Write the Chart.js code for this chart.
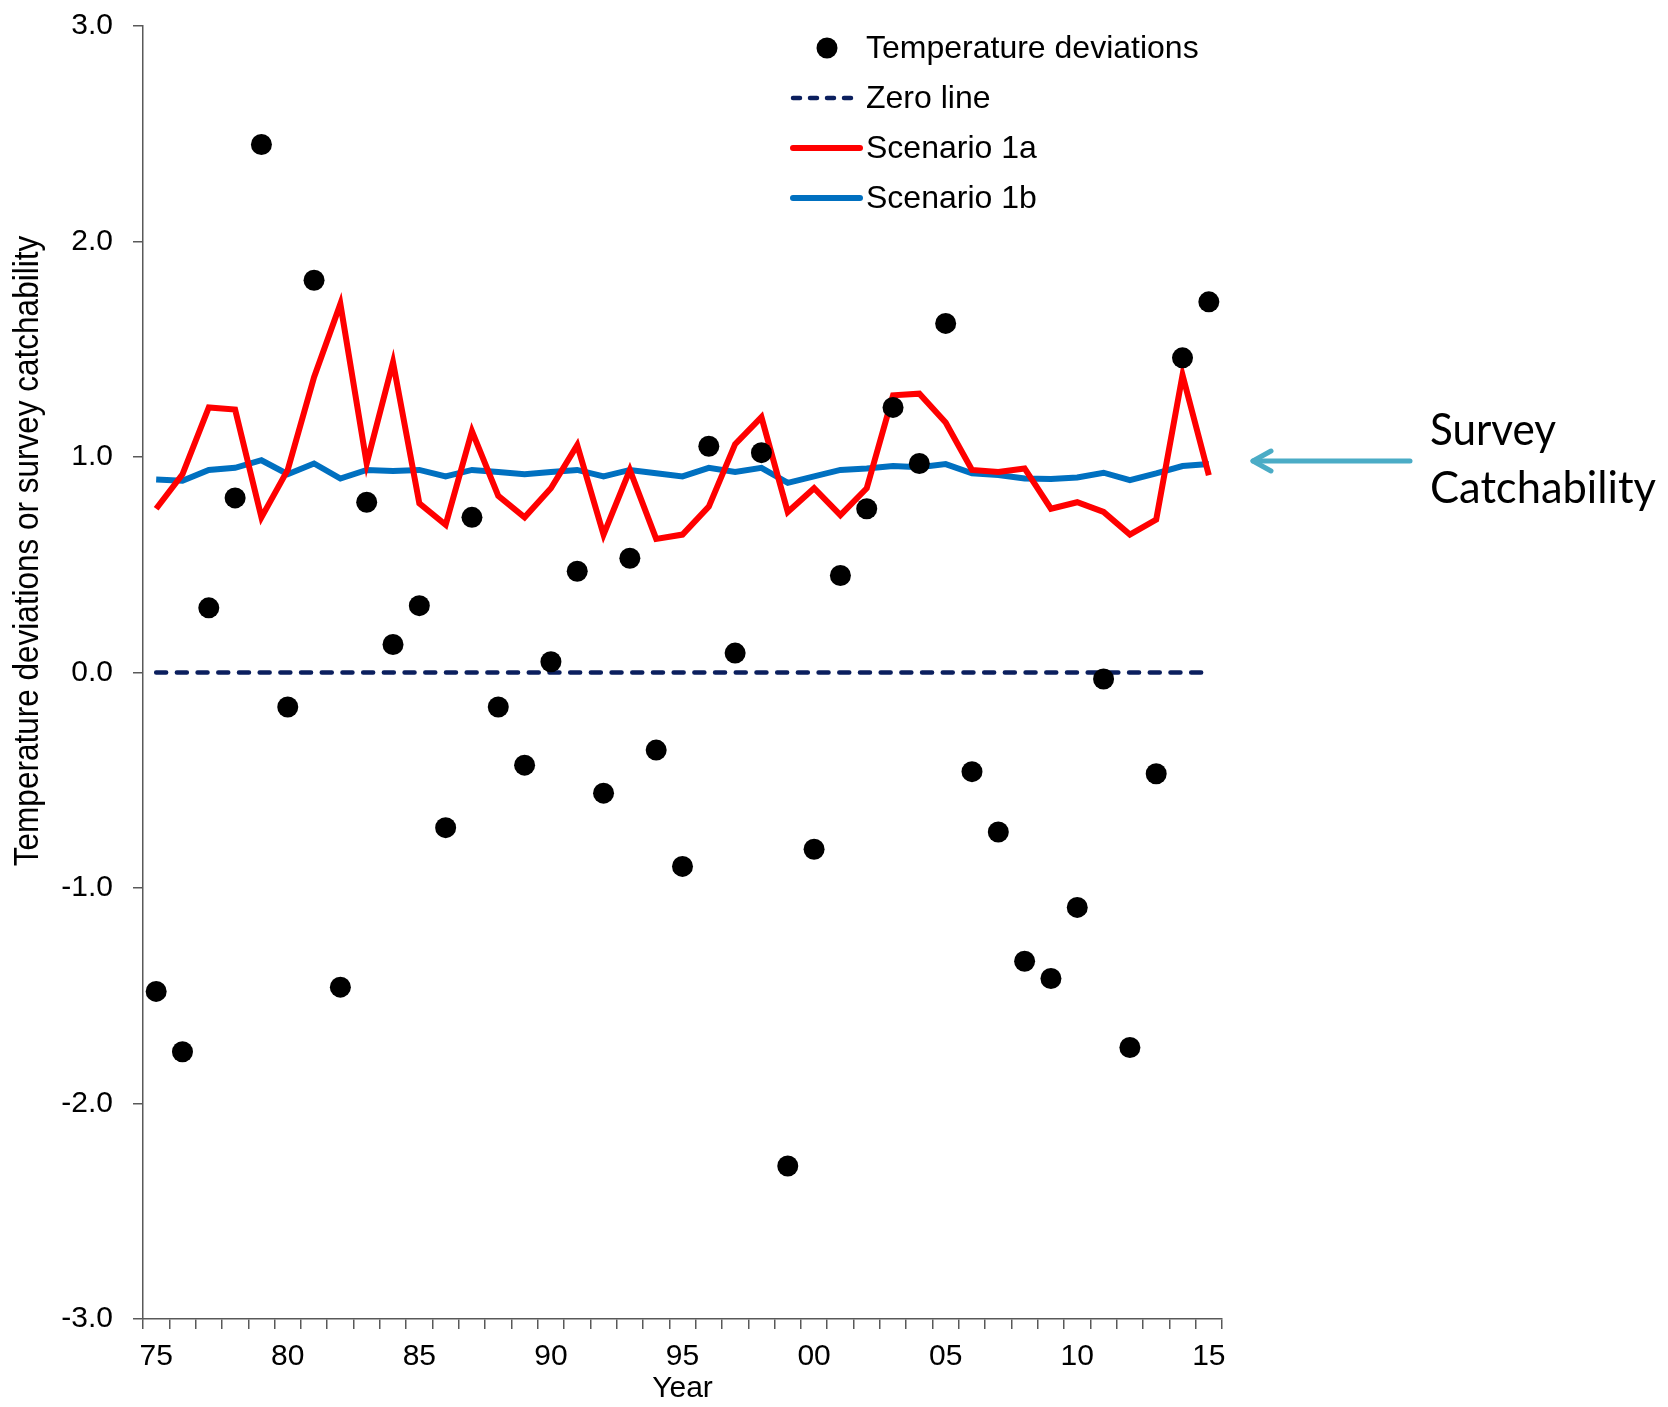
<!DOCTYPE html>
<html>
<head>
<meta charset="utf-8">
<script src="https://cdn.jsdelivr.net/npm/chart.js@4.4.1/dist/chart.umd.min.js"></script>
<style>
html, body { margin: 0; padding: 0; background: #fff; }
</style>
</head>
<body>
<canvas id="chart" width="1668" height="1407"></canvas>
<script>
const years = ["1975","1976","1977","1978","1979","1980","1981","1982","1983","1984",
  "1985","1986","1987","1988","1989","1990","1991","1992","1993","1994",
  "1995","1996","1997","1998","1999","2000","2001","2002","2003","2004",
  "2005","2006","2007","2008","2009","2010","2011","2012","2013","2014","2015"]
const xTickLabels = ["75","","","","","80","","","","",
  "85","","","","","90","","","","",
  "95","","","","","00","","","","",
  "05","","","","","10","","","","","15"]

const tempDeviations = [-1.48,-1.76,0.30,0.81,2.45,-0.16,1.82,-1.46,0.79,0.13,
  0.31,-0.72,0.72,-0.16,-0.43,0.05,0.47,-0.56,0.53,-0.36,
  -0.90,1.05,0.09,1.02,-2.29,-0.82,0.45,0.76,1.23,0.97,
  1.62,-0.46,-0.74,-1.34,-1.42,-1.09,-0.03,-1.74,-0.47,1.46,1.72]
const zeroLine = [0,0,0,0,0,0,0,0,0,0,0,0,0,0,0,0,0,0,0,0,
  0,0,0,0,0,0,0,0,0,0,0,0,0,0,0,0,0,0,0,0,0]
const scenario1a = [0.76,0.92,1.23,1.22,0.72,0.94,1.37,1.71,0.97,1.44,
  0.785,0.685,1.12,0.82,0.72,0.855,1.055,0.64,0.94,0.62,
  0.64,0.77,1.06,1.185,0.745,0.855,0.73,0.855,1.286,1.294,
  1.16,0.94,0.93,0.947,0.76,0.79,0.745,0.64,0.71,1.38,0.915]
const scenario1b = [0.896,0.89,0.94,0.95,0.985,0.92,0.97,0.90,0.94,0.935,
  0.94,0.91,0.94,0.93,0.92,0.93,0.94,0.91,0.94,0.925,
  0.91,0.95,0.93,0.95,0.88,0.91,0.94,0.947,0.958,0.952,
  0.967,0.924,0.916,0.90,0.898,0.905,0.927,0.893,0.924,0.958,0.967]

const yTitle = "Temperature deviations or survey catchability"
const xTitle = "Year"
const legendItems = [
  {label: "Temperature deviations", kind: "dot", color: "#000000"},
  {label: "Zero line", kind: "dash", color: "#0b1f5e"},
  {label: "Scenario 1a", kind: "line", color: "#ff0000"},
  {label: "Scenario 1b", kind: "line", color: "#0070c0"}
]
const noteLines = ["Survey", "Catchability"]

const axisColor = "#595959"
const arialFont = '"Liberation Sans", Arial, sans-serif'

const extras = {
  id: "extras",
  afterDraw(chart) {
    const ctx = chart.ctx
    ctx.save()

    // y axis title, sits a bit above the middle of the axis
    ctx.save()
    ctx.translate(28, 551)
    ctx.rotate(-Math.PI / 2)
    ctx.scale(1, 1.12)
    ctx.font = "31.5px " + arialFont
    ctx.fillStyle = "#000"
    ctx.textAlign = "center"
    ctx.textBaseline = "middle"
    ctx.fillText(yTitle, 0, 0)
    ctx.restore()

    // legend
    ctx.font = "32px " + arialFont
    ctx.textBaseline = "middle"
    ctx.textAlign = "left"
    legendItems.forEach((item, i) => {
      const y = 48 + i * 50
      if (item.kind == "dot") {
        ctx.beginPath()
        ctx.fillStyle = item.color
        ctx.arc(827, y, 10.5, 0, Math.PI * 2)
        ctx.fill()
      } else {
        ctx.beginPath()
        ctx.strokeStyle = item.color
        ctx.lineCap = "round"
        if (item.kind == "dash") {
          ctx.lineWidth = 4.5
          ctx.setLineDash([7, 10])
        } else {
          ctx.lineWidth = 6
          ctx.setLineDash([])
        }
        ctx.moveTo(793, y)
        ctx.lineTo(860, y)
        ctx.stroke()
        ctx.setLineDash([])
      }
      ctx.fillStyle = "#000"
      ctx.fillText(item.label, 866, y + 1)
    })

    // arrow pointing at the catchability lines
    ctx.strokeStyle = "#4bacc6"
    ctx.lineWidth = 5
    ctx.lineCap = "round"
    ctx.lineJoin = "round"
    ctx.beginPath()
    ctx.moveTo(1410, 461)
    ctx.lineTo(1253, 461)
    ctx.stroke()
    ctx.beginPath()
    ctx.moveTo(1271, 451)
    ctx.lineTo(1253, 461)
    ctx.lineTo(1271, 471)
    ctx.stroke()

    ctx.font = '45px Lato, "Open Sans", sans-serif'
    ctx.fillStyle = "#000"
    ctx.textBaseline = "alphabetic"
    ctx.fillText(noteLines[0], 1430, 445, 126)
    ctx.fillText(noteLines[1], 1430, 503, 226)

    ctx.restore()
  }
}

new Chart(document.getElementById("chart"), {
  type: "line",
  data: {
    labels: years,
    datasets: [
      {
        label: "Temperature deviations",
        data: tempDeviations,
        showLine: false,
        pointRadius: 10.5,
        pointBackgroundColor: "#000",
        pointBorderWidth: 0
      },
      {
        label: "Zero line",
        data: zeroLine,
        borderColor: "#0b1f5e",
        borderWidth: 4.5,
        borderDash: [10, 10.7],
        borderCapStyle: "round",
        pointRadius: 0
      },
      {
        label: "Scenario 1a",
        data: scenario1a,
        borderColor: "#ff0000",
        borderWidth: 6,
        pointRadius: 0,
        tension: 0
      },
      {
        label: "Scenario 1b",
        data: scenario1b,
        borderColor: "#0070c0",
        borderWidth: 6,
        pointRadius: 0,
        tension: 0
      }
    ]
  },
  options: {
    responsive: false,
    animation: false,
    layout: { padding: { top: 26, right: 446, left: 0, bottom: 0 } },
    plugins: { legend: { display: false }, tooltip: { enabled: false } },
    scales: {
      x: {
        type: "category",
        offset: true,
        grid: { offset: true, drawOnChartArea: false, drawTicks: true, tickLength: 10, color: axisColor, lineWidth: 1.5 },
        border: { color: axisColor, width: 1.5 },
        ticks: {
          autoSkip: false,
          maxRotation: 0,
          padding: 10,
          color: "#000",
          font: { size: 30, family: arialFont },
          callback: (val, index) => xTickLabels[index]
        },
        title: { display: true, text: xTitle, color: "#000", font: { size: 30, family: arialFont }, padding: 0 },
        afterFit: (scale) => { scale.height = 88 }
      },
      y: {
        min: -3,
        max: 3,
        grid: { drawOnChartArea: false, drawTicks: true, tickLength: 10, color: axisColor, lineWidth: 1.5 },
        border: { color: axisColor, width: 1.5 },
        ticks: {
          stepSize: 1,
          padding: 20,
          color: "#000",
          font: { size: 30, family: arialFont },
          callback: (v) => v.toFixed(1)
        },
        afterFit: (scale) => {
          scale.width = 143
          scale.paddingTop = 0
          scale.paddingBottom = 0
        }
      }
    }
  },
  plugins: [extras]
})
</script>
</body>
</html>
